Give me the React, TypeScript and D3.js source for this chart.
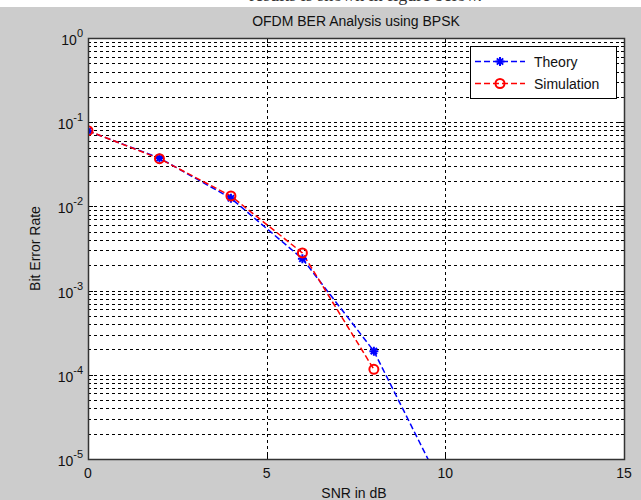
import React, { useEffect, useRef } from "react";
import * as d3 from "d3";

// chart values
const snrTheory = [0, 2, 4, 6, 8, 10];
const berTheory = [0.0786, 0.0375, 0.0125, 0.00239, 0.000191, 0.00000387];
const snrSim = [0, 2, 4, 6, 8];
const berSim = [0.0792, 0.0369, 0.0133, 0.0028, 0.000116];
const xTicks = [0, 5, 10, 15];
const yExps = [0, -1, -2, -3, -4, -5];
const seriesNames = ["Theory", "Simulation"];

const W = 641, H = 500;
const margin = { top: 38, right: 17, bottom: 41, left: 88 };
const FONT = "Arial, 'Liberation Sans', sans-serif";

export default function App() {
  const ref = useRef<SVGSVGElement>(null);

  useEffect(() => {
    const svg = d3.select(ref.current);
    svg.selectAll("*").remove();

    const w = W - margin.left - margin.right;
    const h = H - margin.top - margin.bottom;

    const x = d3.scaleLinear().domain([0, 15]).range([margin.left, margin.left + w]);
    const y = d3.scaleLog().domain([1e-5, 1]).range([margin.top + h, margin.top]);

    // figure background + cut off document text at the very top
    svg.append("rect").attr("width", W).attr("height", H).attr("fill", "#cccccc");
    svg.append("rect").attr("width", W).attr("height", 7).attr("fill", "#ffffff");
    svg.append("text")
      .attr("x", 482).attr("y", 1)
      .attr("text-anchor", "end")
      .attr("font-family", "'Liberation Serif', 'Times New Roman', serif")
      .attr("font-size", 18).attr("fill", "#333")
      .text("results is shown in figure below.");

    svg.append("defs").append("clipPath").attr("id", "plotclip")
      .append("rect").attr("x", margin.left).attr("y", margin.top).attr("width", w).attr("height", h);

    svg.append("rect")
      .attr("x", margin.left).attr("y", margin.top).attr("width", w).attr("height", h)
      .attr("fill", "#ffffff");

    // log grid: every minor + major value
    const gridVals: number[] = [];
    for (let e = -5; e < 0; e++) {
      for (let m = 1; m <= 9; m++) gridVals.push(m * Math.pow(10, e));
    }
    const grid = svg.append("g").attr("stroke", "#000").attr("stroke-width", 1)
      .attr("stroke-dasharray", "3,3").attr("shape-rendering", "crispEdges");
    grid.selectAll(".hg").data(gridVals.filter(v => v > 1e-5)).join("line")
      .attr("x1", margin.left).attr("x2", margin.left + w)
      .attr("y1", d => Math.round(y(d)) + 0.5).attr("y2", d => Math.round(y(d)) + 0.5);
    grid.selectAll(".vg").data(xTicks.filter(t => t > 0 && t < 15)).join("line")
      .attr("x1", d => Math.round(x(d)) + 0.5).attr("x2", d => Math.round(x(d)) + 0.5)
      .attr("y1", margin.top).attr("y2", margin.top + h);

    // ticks inside the box
    const ticks = svg.append("g").attr("stroke", "#000").attr("shape-rendering", "crispEdges");
    xTicks.forEach(t => {
      const px = Math.round(x(t)) + 0.5;
      ticks.append("line").attr("x1", px).attr("x2", px).attr("y1", margin.top + h).attr("y2", margin.top + h - 5);
      ticks.append("line").attr("x1", px).attr("x2", px).attr("y1", margin.top).attr("y2", margin.top + 5);
    });
    gridVals.forEach(v => {
      const py = Math.round(y(v)) + 0.5;
      const len = Math.abs(Math.log10(v) - Math.round(Math.log10(v))) < 1e-9 ? 5 : 3;
      ticks.append("line").attr("x1", margin.left).attr("x2", margin.left + len).attr("y1", py).attr("y2", py);
      ticks.append("line").attr("x1", margin.left + w).attr("x2", margin.left + w - len).attr("y1", py).attr("y2", py);
    });

    // series lines
    const line = d3.line<[number, number]>().x(d => x(d[0])).y(d => y(d[1]));
    const plot = svg.append("g").attr("clip-path", "url(#plotclip)");
    const theoryPts: [number, number][] = snrTheory.map((s, i) => [s, berTheory[i]]);
    const simPts: [number, number][] = snrSim.map((s, i) => [s, berSim[i]]);

    plot.append("path").attr("d", line(theoryPts)).attr("fill", "none")
      .attr("stroke", "#0000ff").attr("stroke-width", 1.5).attr("stroke-dasharray", "6,3");
    plot.append("path").attr("d", line(simPts)).attr("fill", "none")
      .attr("stroke", "#ff0000").attr("stroke-width", 1.5).attr("stroke-dasharray", "6,3");

    const star = (g: any, cx: number, cy: number) => {
      const s = 4.5;
      g.append("path")
        .attr("d", `M${cx - s},${cy}L${cx + s},${cy}M${cx},${cy - s}L${cx},${cy + s}` +
          `M${cx - s * 0.7},${cy - s * 0.7}L${cx + s * 0.7},${cy + s * 0.7}M${cx - s * 0.7},${cy + s * 0.7}L${cx + s * 0.7},${cy - s * 0.7}`)
        .attr("stroke", "#0000ff").attr("stroke-width", 2).attr("fill", "none");
    };
    const ring = (g: any, cx: number, cy: number) => {
      g.append("circle").attr("cx", cx).attr("cy", cy).attr("r", 4.5)
        .attr("fill", "none").attr("stroke", "#ff0000").attr("stroke-width", 2);
    };
    theoryPts.forEach(d => star(plot, x(d[0]), y(d[1])));
    simPts.forEach(d => ring(plot, x(d[0]), y(d[1])));

    // axes box
    svg.append("rect")
      .attr("x", margin.left + 0.5).attr("y", margin.top + 0.5).attr("width", w).attr("height", h)
      .attr("fill", "none").attr("stroke", "#333").attr("stroke-width", 1.5);

    // tick labels
    const lab = svg.append("g").attr("font-family", FONT).attr("fill", "#111");
    xTicks.forEach(t => {
      lab.append("text").attr("x", x(t)).attr("y", margin.top + h + 19)
        .attr("text-anchor", "middle").attr("font-size", 14).text(String(t));
    });
    yExps.forEach(e => {
      const py = y(Math.pow(10, e));
      const tx = lab.append("text").attr("x", margin.left - 5).attr("y", py + 7)
        .attr("text-anchor", "end").attr("font-size", 14);
      tx.append("tspan").text("10");
      tx.append("tspan").attr("dy", -8).attr("font-size", 11).text(String(e));
    });

    // titles
    lab.append("text").attr("x", margin.left + w / 2).attr("y", 26)
      .attr("text-anchor", "middle").attr("font-size", 14).text("OFDM BER Analysis using BPSK");
    lab.append("text").attr("x", margin.left + w / 2 - 2).attr("y", 498)
      .attr("text-anchor", "middle").attr("font-size", 14).text("SNR in dB");
    lab.append("text")
      .attr("transform", `translate(40, ${margin.top + h / 2}) rotate(-90)`)
      .attr("text-anchor", "middle").attr("font-size", 14).text("Bit Error Rate");

    // legend
    const lg = svg.append("g");
    lg.append("rect").attr("x", 470.5).attr("y", 46.5).attr("width", 146).attr("height", 52)
      .attr("fill", "#fff").attr("stroke", "#000").attr("stroke-width", 1);
    const rows = [61.5, 83.5];
    const colors = ["#0000ff", "#ff0000"];
    seriesNames.forEach((name, i) => {
      lg.append("line").attr("x1", 475).attr("x2", 525).attr("y1", rows[i]).attr("y2", rows[i])
        .attr("stroke", colors[i]).attr("stroke-width", 1.5).attr("stroke-dasharray", "6,3");
      if (i === 0) star(lg, 500, rows[i]); else ring(lg, 500, rows[i]);
      lg.append("text").attr("x", 534).attr("y", rows[i] + 5)
        .attr("font-family", FONT).attr("font-size", 14).attr("fill", "#111").text(name);
    });
  }, []);

  return (
    <svg ref={ref} width={W} height={H}
      style={{ position: "absolute", left: 0, top: 0, display: "block" }} />
  );
}
